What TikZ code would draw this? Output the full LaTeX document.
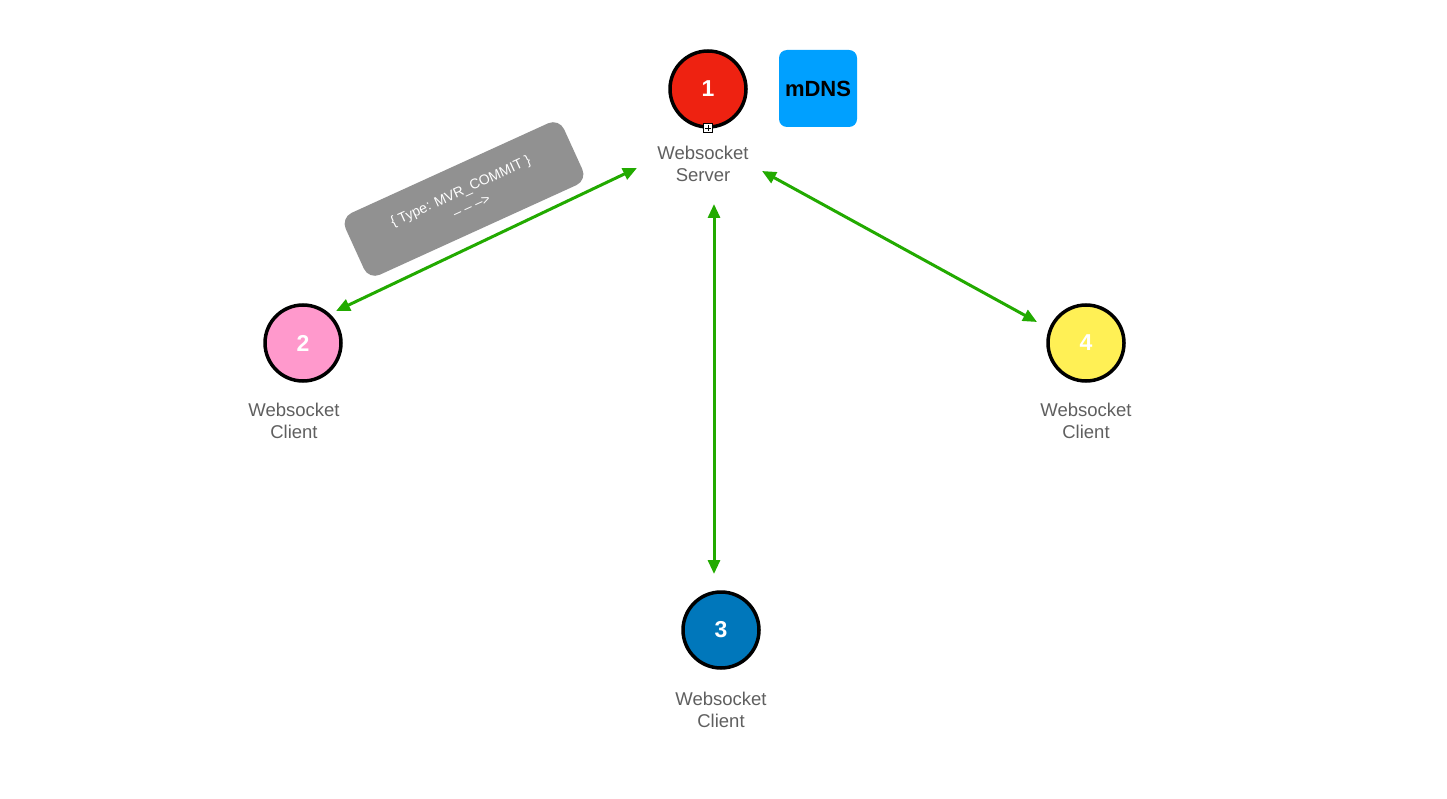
\documentclass[tikz,border=0pt]{standalone}
\usepackage{fontspec}
\setmainfont{Liberation Sans}
\usetikzlibrary{arrows.meta,calc}

\definecolor{srvred}{RGB}{238,34,17}
\definecolor{clipink}{RGB}{255,153,204}
\definecolor{cliblue}{RGB}{0,119,187}
\definecolor{cliyellow}{RGB}{255,240,85}
\definecolor{mdnsblue}{RGB}{0,160,255}
\definecolor{linkgreen}{RGB}{34,170,0}
\definecolor{msggray}{RGB}{145,145,145}
\definecolor{labelgray}{RGB}{95,95,95}

\tikzset{
  peer/.style={circle, draw=black, line width=3.5pt, minimum size=76pt, inner sep=0pt,
    text=white, font=\fontsize{23}{26}\selectfont\bfseries},
  peerlabel/.style={align=center, text=labelgray, font=\fontsize{18.5}{22}\selectfont, inner sep=0pt},
  link/.style={draw=linkgreen, line width=3pt,
    {Triangle[length=14pt,width=12pt]}-{Triangle[length=14pt,width=12pt]}},
  msgbox/.style={fill=msggray, rounded corners=12pt, minimum width=240pt, minimum height=68pt,
    text=white, align=center, font=\fontsize{14}{16}\selectfont, inner sep=0pt},
  badge/.style={fill=mdnsblue, rounded corners=8pt, minimum width=78pt, minimum height=77pt,
    inner sep=0pt, font=\fontsize{22}{24}\selectfont\bfseries},
}

\begin{document}
\begin{tikzpicture}[x=1pt,y=-1pt]
  \useasboundingbox (0,0) rectangle (1447,799);

  % peers
  \node[peer, fill=srvred]    (p1) at (708,89)  {1};
  \node[peer, fill=clipink]   (p2) at (303,343) {2};
  \node[peer, fill=cliblue]   (p3) at (721,630) {3};
  \node[peer, fill=cliyellow] (p4) at (1086,343) {4};

  % collapse handle on the server
  \node[draw=black, fill=white, line width=0.8pt, minimum size=9pt, inner sep=0pt] (handle) at (708,128) {};
  \draw[line width=0.8pt] ($(handle.west)+(2pt,0)$) -- ($(handle.east)+(-2pt,0)$);
  \draw[line width=0.8pt] ($(handle.north)+(0,-2pt)$) -- ($(handle.south)+(0,2pt)$);

  % labels
  \node[peerlabel] (l1) at (703,164) {Websocket\\Server};
  \node[peerlabel] (l2) at (294,421) {Websocket\\Client};
  \node[peerlabel] (l3) at (721,710) {Websocket\\Client};
  \node[peerlabel] (l4) at (1086,421) {Websocket\\Client};

  % mDNS service
  \node[badge] (mdns) at (818,88.5) {mDNS};

  % connector end points
  \coordinate (e12s) at (637,168);
  \coordinate (e12t) at (336,311);
  \coordinate (e13s) at (714,204);
  \coordinate (e13t) at (714,574);
  \coordinate (e14s) at (762,171);
  \coordinate (e14t) at (1037,322);

  \draw[link] (e12t) -- (e12s);
  \draw[link] (e13s) -- (e13t);
  \draw[link] (e14s) -- (e14t);

  % message annotation
  \node[msgbox, rotate=24.5] (msg) at (464,199)
    {\{ Type: MVR\_COMMIT \}\\[2pt]\hspace*{8pt}– – –>};
\end{tikzpicture}
\end{document}
